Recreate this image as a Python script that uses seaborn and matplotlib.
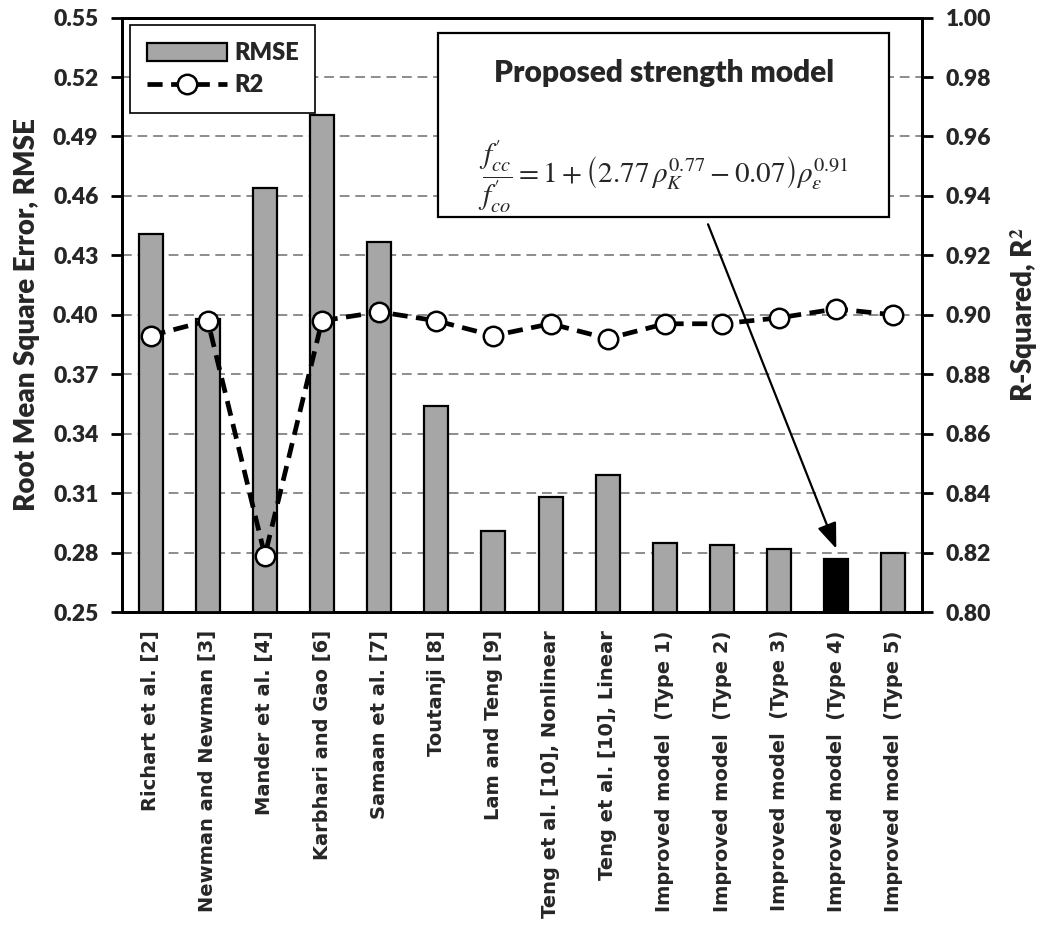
import numpy as np
import pandas as pd
import matplotlib
matplotlib.use("Agg")
import matplotlib.pyplot as plt
from matplotlib.patches import Patch, Rectangle
from matplotlib.lines import Line2D
import seaborn as sns

models = [
    "Richart et al. [2]", "Newman and Newman [3]", "Mander et al. [4]",
    "Karbhari and Gao [6]", "Samaan et al. [7]", "Toutanji [8]",
    "Lam and Teng [9]", "Teng et al. [10], Nonlinear", "Teng et al. [10], Linear",
    "Improved model  (Type 1)", "Improved model  (Type 2)", "Improved model  (Type 3)",
    "Improved model  (Type 4)", "Improved model  (Type 5)",
]
rmse = [0.441, 0.398, 0.464, 0.501, 0.437, 0.354, 0.291, 0.308, 0.319,
        0.285, 0.284, 0.282, 0.277, 0.280]
r2 = [0.893, 0.898, 0.819, 0.898, 0.901, 0.898, 0.893, 0.897, 0.892,
      0.897, 0.897, 0.899, 0.902, 0.900]
highlight = "Improved model  (Type 4)"

rmse_ticks = [0.25, 0.28, 0.31, 0.34, 0.37, 0.40, 0.43, 0.46, 0.49, 0.52, 0.55]
r2_ticks = [0.80, 0.82, 0.84, 0.86, 0.88, 0.90, 0.92, 0.94, 0.96, 0.98, 1.00]

sns.set_theme(style="white")
plt.rcParams["font.family"] = ["Lato", "DejaVu Sans"]
plt.rcParams["mathtext.fontset"] = "stix"
HEAVY = 800

df = pd.DataFrame({"model": models, "rmse": rmse, "r2": r2})
bar_colors = {m: ("#000000" if m == highlight else "#A6A6A6") for m in models}

fig = plt.figure(figsize=(10.43, 9.26), dpi=100)
ax = fig.add_axes([0.117, 0.339, 0.767, 0.642])

sns.barplot(data=df, x="model", y="rmse", hue="model", palette=bar_colors,
            dodge=False, legend=False, width=0.42, edgecolor="black",
            linewidth=1.6, saturation=1, ax=ax, zorder=3)

ax.set_ylim(0.25, 0.55)
ax.set_xlim(-0.5, len(models) - 0.5)
ax.set_yticks(rmse_ticks)
ax.set_yticklabels([f"{t:.2f}" for t in rmse_ticks], fontsize=16.5, fontweight=HEAVY)
ax.yaxis.grid(True, linestyle=(0, (5, 3)), color="#8C8C8C", linewidth=1.4, zorder=0)
ax.set_axisbelow(True)

# category labels at bar centres, tick marks on category boundaries
ax.set_xticks(np.arange(len(models)))
ax.set_xticklabels(models, rotation=90, fontsize=14, fontweight="bold",
                   family="DejaVu Sans")
ax.tick_params(axis="x", which="major", length=0, pad=13)
ax.set_xticks(np.arange(-0.5, len(models), 1), minor=True)
ax.tick_params(axis="x", which="minor", length=8, width=2, direction="out", color="black")
ax.tick_params(axis="y", length=8, width=2, direction="out", color="black", left=True, pad=9)
ax.set_xlabel("")
ax.set_ylabel("Root Mean Square Error, RMSE", fontsize=20, fontweight=HEAVY, labelpad=9)
for s in ax.spines.values():
    s.set_linewidth(2)
    s.set_color("black")

ax2 = ax.twinx()
sns.lineplot(x=np.arange(len(models)), y=r2, ax=ax2, color="black",
             linewidth=3.4, linestyle=(0, (3.2, 1.8)), marker="o", markersize=14,
             markerfacecolor="white", markeredgecolor="black", markeredgewidth=1.8,
             zorder=5)
ax2.set_ylim(0.80, 1.00)
ax2.set_yticks(r2_ticks)
ax2.set_yticklabels([f"{t:.2f}" for t in r2_ticks], fontsize=16.5, fontweight=HEAVY)
ax2.tick_params(axis="y", length=8, width=2, direction="out", color="black", right=True, pad=9)
ax2.set_ylabel("R-Squared, R$^\\mathbf{2}$", fontsize=20, fontweight=HEAVY, labelpad=12)
ax2.grid(False)
for s in ax2.spines.values():
    s.set_linewidth(2)
    s.set_color("black")

# legend
handles = [
    Patch(facecolor="#A6A6A6", edgecolor="black", linewidth=1.6, label="RMSE"),
    Line2D([], [], color="black", linewidth=3.4, linestyle=(0, (3.2, 1.8)),
           marker="o", markersize=14, markerfacecolor="white",
           markeredgecolor="black", markeredgewidth=1.8, label="R2"),
]
leg = ax2.legend(handles=handles, loc="upper left", bbox_to_anchor=(0.01, 0.987),
                 frameon=True, fancybox=False, edgecolor="black", framealpha=1,
                 prop={"weight": HEAVY, "size": 17}, handlelength=3.4,
                 handleheight=0.8, borderpad=0.7, labelspacing=0.45,
                 handletextpad=0.3, borderaxespad=0)
leg.get_frame().set_linewidth(1.2)
leg.set_zorder(10)

# annotation box with the fitted strength model
box = Rectangle((0.395, 0.664), 0.5637, 0.3097, transform=ax2.transAxes,
                facecolor="white", edgecolor="black", linewidth=1.6, zorder=8)
ax2.add_patch(box)
ax2.text(0.677, 0.906, "Proposed strength model", transform=ax2.transAxes,
         ha="center", va="center", fontsize=21.5, fontweight=HEAVY, zorder=9)
ax2.text(0.677, 0.732,
         r"$\dfrac{f_{cc}^{\prime}}{f_{co}^{\prime}}=1+\left(2.77\,\rho_K^{0.77}-0.07\right)\rho_\varepsilon^{0.91}$",
         transform=ax2.transAxes, ha="center", va="center", fontsize=21,
         fontweight="normal", zorder=9)

idx = models.index(highlight)
ax.annotate("", xy=(idx, rmse[idx] + 0.005), xytext=(9.755, 0.4457),
            xycoords="data", textcoords="data",
            arrowprops=dict(arrowstyle="-|>,head_length=1.3,head_width=0.5",
                            color="black", linewidth=1.6, shrinkA=0, shrinkB=0),
            zorder=7, annotation_clip=False)

fig.savefig("out.png", dpi=100)
